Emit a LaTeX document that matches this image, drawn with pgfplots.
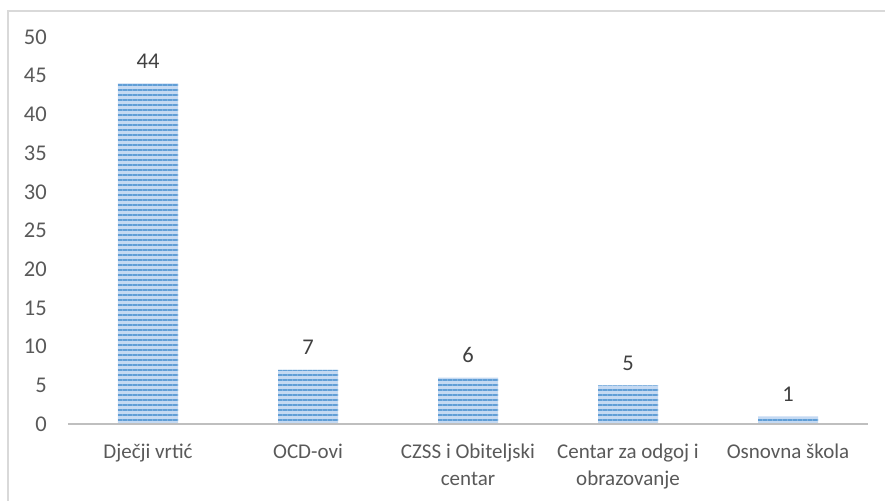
\documentclass[border=0pt]{standalone}
\usepackage{fontspec}
\setmainfont{Carlito}
\usepackage{pgfplots}
\pgfplotsset{compat=1.18}
\usetikzlibrary{patterns.meta}
\definecolor{stripe}{RGB}{96,158,214}
\definecolor{barfill}{RGB}{196,217,242}
\definecolor{ticktxt}{RGB}{89,89,89}
\definecolor{valtxt}{RGB}{64,64,64}
\definecolor{axisgray}{RGB}{191,191,191}
\definecolor{framegray}{RGB}{217,217,217}

\begin{document}
\begin{tikzpicture}[x=1pt,y=1pt]
\useasboundingbox (-68,-76) rectangle (817,424);
\draw[framegray, line width=1.5pt] (820,413) -- (-60,413) -- (-60,-80);
\begin{axis}[
    at={(0,0)}, anchor=south west,
    scale only axis,
    width=800pt, height=387pt,
    xmin=-0.5, xmax=4.5,
    ymin=0, ymax=50,
    axis line style={draw=none},
    major tick style={draw=none},
    ytick={0,5,...,50},
    xtick={0,1,2,3,4},
    xticklabels={Dječji vrtić, OCD-ovi, {CZSS i Obiteljski\\centar}, {Centar za odgoj i\\obrazovanje}, Osnovna škola},
    /pgf/number format/assume math mode=true,
    yticklabel style={font=\fontsize{22.5}{25}\selectfont, color=ticktxt, anchor=east, inner sep=0pt, xshift=-21pt},
    xticklabel style={font=\fontsize{21}{27}\selectfont, color=ticktxt, anchor=north, inner sep=0pt, yshift=-20pt, align=center},
    clip=false,
]
\addplot[ybar, bar width=60pt, draw=none, fill=barfill,
    postaction={pattern={Lines[angle=0, distance=5pt, line width=2pt]}, pattern color=stripe},
    nodes near coords,
    nodes near coords style={font=\fontsize{22.5}{25}\selectfont, color=valtxt, anchor=base, inner sep=0pt, yshift=15pt},
] coordinates {
    (0,44) (1,7) (2,6) (3,5) (4,1)
};
\draw[axisgray, line width=2.5pt] (axis cs:-0.5,0) -- (axis cs:4.5,0);
\end{axis}
\end{tikzpicture}
\end{document}
